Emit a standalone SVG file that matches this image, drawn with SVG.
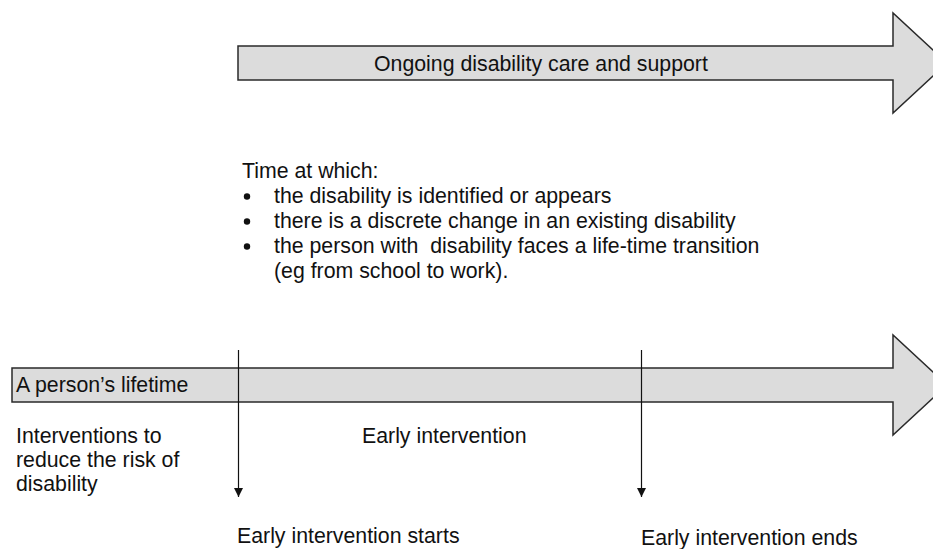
<svg xmlns="http://www.w3.org/2000/svg" width="933" height="549" viewBox="0 0 933 549">
  <style>
    .band { fill: #dcdcdc; stroke: #2a2a2a; stroke-width: 1.5; stroke-linejoin: miter; }
    .t { font-family: "Liberation Sans", Arial, sans-serif; font-size: 21.3px; fill: #111; white-space: pre; }
    .mark { stroke: #111; stroke-width: 1.2; fill: none; }
  </style>
  <defs>
    <marker id="tri" viewBox="0 0 10 10" refX="10" refY="5" markerWidth="9" markerHeight="9" markerUnits="userSpaceOnUse" orient="auto">
      <path d="M0,0 L10,5 L0,10 Z" fill="#111"/>
    </marker>
  </defs>

  <rect width="933" height="549" fill="#ffffff"/>

  <!-- upper band: ongoing care -->
  <g id="care-arrow">
    <path class="band" d="M238,46 H893 V13 L947,63 L893,113 V80 H238 Z"/>
    <text class="t" x="374" y="71">Ongoing disability care and support</text>
  </g>

  <!-- trigger points list -->
  <g id="trigger-list">
    <text class="t" x="242" y="178">Time at which:</text>
    <circle cx="247" cy="196.5" r="3.2" fill="#111"/>
    <circle cx="247" cy="221.5" r="3.2" fill="#111"/>
    <circle cx="247" cy="246.5" r="3.2" fill="#111"/>
    <text class="t" x="274" y="203">the disability is identified or appears</text>
    <text class="t" x="274" y="228">there is a discrete change in an existing disability</text>
    <text class="t" x="274" y="253" xml:space="preserve">the person with  disability faces a life-time transition</text>
    <text class="t" x="274" y="278">(eg from school to work).</text>
  </g>

  <!-- lower band: lifetime -->
  <g id="lifetime-arrow">
    <path class="band" d="M12,368 H893 V335 L947,385 L893,435 V402 H12 Z"/>
    <text class="t" x="16" y="392">A person’s lifetime</text>
  </g>

  <g id="prevention">
    <text class="t" x="16" y="443">Interventions to</text>
    <text class="t" x="16" y="467">reduce the risk of</text>
    <text class="t" x="16" y="491">disability</text>
  </g>

  <g id="early-intervention">
    <text class="t" x="362" y="443">Early intervention</text>
  </g>

  <g id="ei-start">
    <text class="t" x="237" y="543">Early intervention starts</text>
  </g>

  <g id="ei-end">
    <text class="t" x="641" y="545">Early intervention ends</text>
  </g>

  <!-- time markers -->
  <g id="connectors">
    <line class="mark" x1="238.5" y1="350" x2="238.5" y2="497" marker-end="url(#tri)"/>
    <line class="mark" x1="641.5" y1="350" x2="641.5" y2="497" marker-end="url(#tri)"/>
  </g>
</svg>
